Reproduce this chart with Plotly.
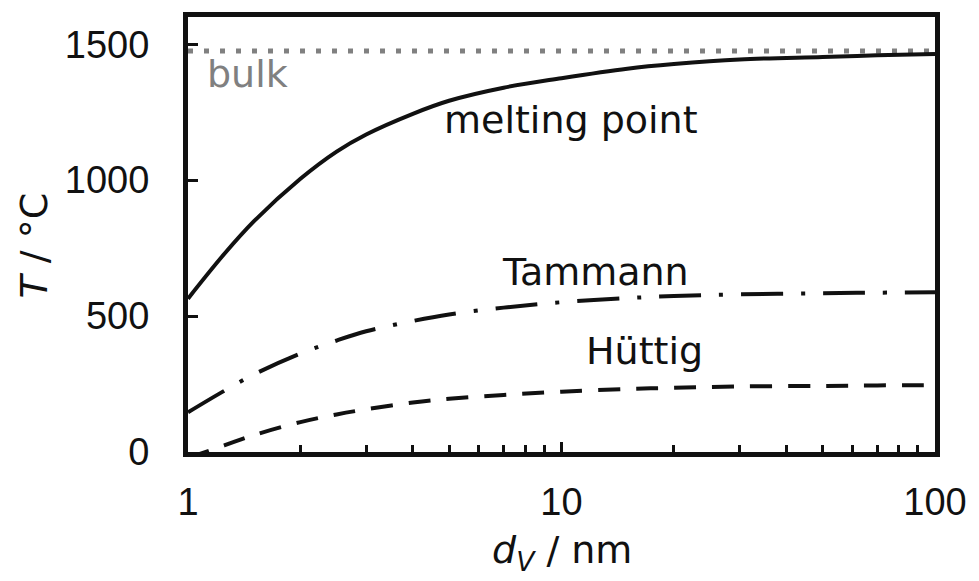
import math
import plotly.graph_objects as go

# Particle diameter d_V in nm
d_nm = [1, 1.25, 1.5, 2, 2.5, 3, 4, 5, 7, 10, 15, 20, 30, 50, 70, 100]

# Temperatures in °C
melting_point = [564, 728, 848, 1005, 1105, 1168, 1244, 1292, 1340, 1375,
                 1410, 1427, 1444, 1453, 1459, 1464]
tammann = [146, 225, 285, 362, 410, 444, 482, 506, 531, 551,
           566, 574, 580, 584, 586, 588]
huettig = [-22, 24, 62, 110, 138, 157, 182, 196, 210, 222,
           232, 236, 241, 243, 245, 246]
bulk_mp = 1475
bulk_x = [1, 100]

x_tickvals = [1, 10, 100]
x_ticktext = ["1", "10", "100"]
x_minor = [2, 3, 4, 5, 6, 7, 8, 9, 20, 30, 40, 50, 60, 70, 80, 90]
y_tickvals = [0, 500, 1000, 1500]

TICK_FONT = "Liberation Sans, Arial, sans-serif"
TEXT_FONT = "DejaVu Sans, sans-serif"
FS = 38
INK = "#111111"
GREY = "#808080"

W, H = 979, 581
ML, MR, MT, MB = 188, 36, 13, 129
PW, PH = W - ML - MR, H - MT - MB

fig = go.Figure()

fig.add_trace(go.Scatter(x=bulk_x, y=[bulk_mp, bulk_mp], mode="lines",
                         line=dict(color=GREY, width=5, dash="5px,11px"),
                         hoverinfo="skip"))
fig.add_trace(go.Scatter(x=d_nm, y=melting_point, mode="lines",
                         line=dict(color=INK, width=4, shape="spline"),
                         hoverinfo="skip"))
fig.add_trace(go.Scatter(x=d_nm, y=tammann, mode="lines",
                         line=dict(color=INK, width=4, shape="spline",
                                   dash="42px,18px,4px,18px"),
                         hoverinfo="skip"))
fig.add_trace(go.Scatter(x=d_nm, y=huettig, mode="lines",
                         line=dict(color=INK, width=4, shape="spline",
                                   dash="22px,16px"),
                         hoverinfo="skip"))

# Curve labels (annotation x on a log axis is given as log10 of the value)
labels = [
    ("bulk", 1.11, 1390, GREY),
    ("melting point", 4.8, 1222, INK),
    ("Tammann", 6.85, 662, INK),
    ("Hüttig", 11.5, 370, INK),
]
for text, lx, ly, col in labels:
    fig.add_annotation(x=math.log10(lx), y=ly, xref="x", yref="y", text=text,
                       showarrow=False, xanchor="left", yanchor="middle",
                       font=dict(family=TEXT_FONT, size=FS, color=col))


def paper_xy(px, py):
    return (px - ML) / PW, (H - MB - py) / PH


# Axis titles
tx, ty = paper_xy(32, 244)
fig.add_annotation(x=tx, y=ty, xref="paper", yref="paper", text="<i>T</i> / °C",
                   showarrow=False, textangle=-90, xanchor="center", yanchor="middle",
                   font=dict(family=TEXT_FONT, size=FS, color=INK))
dx, dy = paper_xy(566, 553)
fig.add_annotation(x=dx, y=dy, xref="paper", yref="paper",
                   text="<i>d</i><sub><i>V</i></sub> / nm",
                   showarrow=False, xanchor="center", yanchor="middle",
                   font=dict(family=TEXT_FONT, size=FS, color=INK))

fig.update_xaxes(type="log", range=[0, 2], tickvals=x_tickvals, ticktext=x_ticktext,
                 ticks="inside", ticklen=10, tickwidth=3, tickcolor=INK,
                 showline=True, linewidth=5, linecolor=INK, mirror=True,
                 showgrid=False, zeroline=False, ticklabelstandoff=12,
                 tickfont=dict(family=TICK_FONT, size=FS, color=INK),
                 minor=dict(tickvals=x_minor, ticks="inside", ticklen=7,
                            tickwidth=3, tickcolor=INK, showgrid=False))
fig.update_yaxes(range=[0, 1600], tickvals=y_tickvals,
                 ticks="inside", ticklen=10, tickwidth=3, tickcolor=INK,
                 showline=True, linewidth=5, linecolor=INK, mirror=True,
                 showgrid=False, zeroline=False, ticklabelstandoff=26,
                 tickfont=dict(family=TICK_FONT, size=FS, color=INK))

fig.update_layout(width=W, height=H, showlegend=False,
                  paper_bgcolor="white", plot_bgcolor="white",
                  margin=dict(l=ML, r=MR, t=MT, b=MB))

fig.write_html("out.html")
